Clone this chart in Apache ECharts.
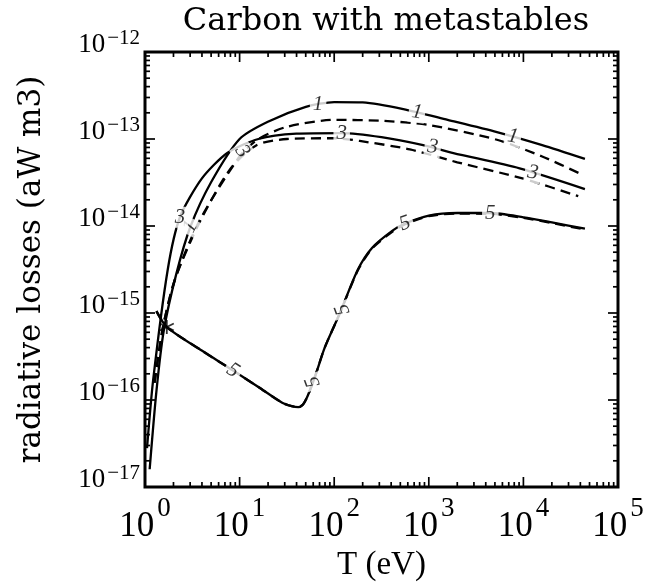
<!DOCTYPE html>
<html>
<head>
<meta charset="utf-8">
<script src="https://cdn.jsdelivr.net/npm/echarts@6/dist/echarts.min.js"></script>
<style>
  html, body { margin: 0; padding: 0; background: #fff; }
  #chart { width: 672px; height: 587px; }
</style>
</head>
<body>
<div id="chart"></div>
<script>
// Radiative loss curves for carbon (T in eV, losses in aW m3)

// curve "1", solid
const tSolid1 = [1.12, 1.32, 1.58, 2.14, 3.02, 5.01, 10.0, 19.9, 50.1, 100, 200, 537, 1585, 5250, 15800, 44700];
const lSolid1 = [1.6e-17, 1.26e-16, 6.3e-16, 2.8e-15, 9.8e-15, 3.2e-14, 1.0e-13, 1.58e-13, 2.34e-13, 2.66e-13, 2.63e-13, 2.21e-13, 1.66e-13, 1.2e-13, 8.5e-14, 5.9e-14];

// curve "1", dashed
const tDash1 = [1.26, 1.55, 2.09, 3.8, 10.0, 15.8, 31.6, 100, 316, 1000, 5250, 15800, 41700];
const lDash1 = [1.58e-16, 6.9e-16, 2.5e-15, 1.17e-14, 6.3e-14, 1.0e-13, 1.38e-13, 1.66e-13, 1.62e-13, 1.45e-13, 9.8e-14, 6.3e-14, 3.9e-14];

// curve "3", solid
const tSolid3 = [1.05, 1.22, 1.74, 2.34, 3.98, 7.41, 15.8, 39.8, 120, 316, 871, 1820, 9120, 44700];
const lSolid3 = [2.8e-17, 1.7e-16, 3.16e-15, 1.26e-14, 3.5e-14, 6.9e-14, 1.0e-13, 1.15e-13, 1.17e-13, 1.05e-13, 8.5e-14, 6.9e-14, 4.6e-14, 2.66e-14];

// curve "3", dashed
const tDash3 = [1.26, 1.55, 2.09, 3.8, 7.94, 15.1, 31.6, 100, 186, 631, 2000, 10000, 38000];
const lDash3 = [1.58e-16, 6.9e-16, 2.5e-15, 1.12e-14, 4.5e-14, 8.5e-14, 1.0e-13, 1.02e-13, 9.5e-14, 7.6e-14, 5.4e-14, 3.5e-14, 2.2e-14];

// curve "5", solid and dashed (nearly coincident)
const tCurve5 = [1.32, 1.70, 3.98, 8.51, 15.8, 28.2, 35.5, 41.7, 46.8, 52.5, 63.1, 79.4, 115, 178, 251, 417, 562, 1000, 2000, 4470, 10000, 20000, 44700];
const lSolid5 = [1.05e-15, 6.9e-16, 3.7e-16, 2.19e-16, 1.41e-16, 9.3e-17, 8.5e-17, 8.3e-17, 8.9e-17, 1.12e-16, 1.9e-16, 4.0e-16, 1.0e-15, 3.16e-15, 5.6e-15, 8.9e-15, 1.07e-14, 1.32e-14, 1.41e-14, 1.41e-14, 1.26e-14, 1.1e-14, 9.3e-15];
const lDash5  = [1.05e-15, 6.9e-16, 3.7e-16, 2.19e-16, 1.41e-16, 9.3e-17, 8.5e-17, 8.3e-17, 8.9e-17, 1.12e-16, 1.9e-16, 4.0e-16, 1.0e-15, 3.1e-15, 5.5e-15, 8.7e-15, 1.05e-14, 1.3e-14, 1.39e-14, 1.38e-14, 1.24e-14, 1.08e-14, 9.1e-15];

// in-line curve labels: text, T, loss, rotation
const curveLabels = [
  ['1', 67.6, 2.47e-13, 0],
  ['1', 750, 2.03e-13, -8],
  ['1', 7760, 1.07e-13, -10],
  ['1', 3.02, 9.8e-15, 62],
  ['3', 2.34, 1.26e-14, 0],
  ['3', 10.7, 7.2e-14, -55],
  ['3', 120, 1.17e-13, 0],
  ['3', 1100, 8.1e-14, -8],
  ['3', 12600, 4.1e-14, -10],
  ['5', 8.51, 2.19e-16, -33],
  ['5', 59.7, 1.62e-16, 110],
  ['5', 123, 1.1e-15, 110],
  ['5', 562, 1.07e-14, 20],
  ['5', 4470, 1.41e-14, 0]
];

// starred point on curve 5
const starPoint = [1.70, 6.9e-16];

// axis ranges and tick decades
const xDecades = [1, 10, 100, 1000, 10000];
const yDecades = [1e-17, 1e-16, 1e-15, 1e-14, 1e-13];
const minorSteps = [1, 2, 3, 4, 5, 6, 7, 8, 9];
const X_MIN = 1, X_MAX = 1e5, Y_MIN = 1e-17, Y_MAX = 1e-12;

const pairs = (ts, ls) => ts.map((t, i) => [t, ls[i]]);

const xTicks = [];
xDecades.forEach(d => minorSteps.forEach(m => xTicks.push([d * m, Y_MIN, m === 1 ? 1 : 0])));
xTicks.push([X_MAX, Y_MIN, 1]);
const yTicks = [];
yDecades.forEach(d => minorSteps.forEach(m => yTicks.push([X_MIN, d * m, m === 1 ? 1 : 0])));
yTicks.push([X_MIN, Y_MAX, 1]);

const TEXT_FONT = "'DejaVu Serif', serif";
const NUM_FONT = "'Liberation Serif', 'Times New Roman', serif";

function expOf(v) { return Math.round(Math.log10(v)); }

function lineSeries(data, dashed) {
  return {
    type: 'line', data: data, showSymbol: false, smooth: 0.25,
    lineStyle: { color: '#000', width: 2.3, type: dashed ? [10, 6] : 'solid' },
    z: 3, silent: true
  };
}

const tickSeries = (data, isX) => ({
  type: 'custom', data: data, silent: true, z: 5,
  renderItem: function (params, api) {
    const cs = params.coordSys;
    const major = api.value(2) === 1;
    const len = major ? 10 : 5;
    const st = { stroke: '#000', lineWidth: 1.7 };
    if (isX) {
      const x = api.coord([api.value(0), Y_MIN])[0];
      const yb = cs.y + cs.height, yt = cs.y;
      return { type: 'group', children: [
        { type: 'line', shape: { x1: x, y1: yb, x2: x, y2: yb - len }, style: st },
        { type: 'line', shape: { x1: x, y1: yt, x2: x, y2: yt + len }, style: st }
      ]};
    }
    const y = api.coord([X_MIN, api.value(1)])[1];
    const xl = cs.x, xr = cs.x + cs.width;
    return { type: 'group', children: [
      { type: 'line', shape: { x1: xl, y1: y, x2: xl + len, y2: y }, style: st },
      { type: 'line', shape: { x1: xr, y1: y, x2: xr - len, y2: y }, style: st }
    ]};
  }
});

const chart = echarts.init(document.getElementById('chart'), null, { renderer: 'canvas' });

chart.setOption({
  animation: false,
  backgroundColor: '#fff',
  title: {
    text: 'Carbon with metastables',
    left: 381, top: 1, textAlign: 'center',
    textStyle: { fontFamily: TEXT_FONT, fontWeight: 'normal', fontSize: 32, color: '#000' }
  },
  grid: {
    left: 145, right: 54, top: 52, bottom: 100,
    show: true, borderColor: '#000', borderWidth: 3, backgroundColor: 'transparent'
  },
  xAxis: {
    type: 'log', logBase: 10, min: X_MIN, max: X_MAX,
    axisLine: { show: false }, axisTick: { show: false }, splitLine: { show: false },
    minorTick: { show: false },
    axisLabel: {
      margin: 8,
      formatter: v => '{b|10}{e|' + expOf(v) + '}',
      rich: {
        b: { fontFamily: NUM_FONT, fontSize: 35, color: '#000', verticalAlign: 'bottom', padding: [14, 0, 0, 0] },
        e: { fontFamily: NUM_FONT, fontSize: 27, color: '#000', verticalAlign: 'top', padding: [0, 0, 16, 3] }
      }
    },
    name: 'T (eV)', nameLocation: 'middle', nameGap: 60,
    nameTextStyle: { fontFamily: NUM_FONT, fontSize: 33, color: '#000' }
  },
  yAxis: {
    type: 'log', logBase: 10, min: Y_MIN, max: Y_MAX,
    axisLine: { show: false }, axisTick: { show: false }, splitLine: { show: false },
    minorTick: { show: false },
    axisLabel: {
      margin: 5,
      formatter: v => '{b|10}{e|' + String(expOf(v)).replace('-', '−') + '}',
      rich: {
        b: { fontFamily: NUM_FONT, fontSize: 27, color: '#000' },
        e: { fontFamily: NUM_FONT, fontSize: 21, color: '#000', verticalAlign: 'top', padding: [0, 0, 14, 2] }
      },
      padding: [0, 0, 14, 0]
    },
    name: 'radiative losses (aW m3)', nameLocation: 'middle', nameGap: 98, nameRotate: 90,
    nameTextStyle: { fontFamily: TEXT_FONT, fontSize: 31, color: '#000' }
  },
  series: [
    lineSeries(pairs(tSolid1, lSolid1), false),
    lineSeries(pairs(tDash1, lDash1), true),
    lineSeries(pairs(tSolid3, lSolid3), false),
    lineSeries(pairs(tDash3, lDash3), true),
    lineSeries(pairs(tCurve5, lSolid5), false),
    lineSeries(pairs(tCurve5, lDash5), true),
    {
      type: 'scatter', silent: true, z: 6, symbolSize: 0,
      data: curveLabels.map(c => ({
        value: [c[1], c[2]],
        label: {
          show: true, position: 'inside', formatter: c[0], rotate: c[3],
          fontFamily: NUM_FONT, fontStyle: 'italic', fontSize: 21, color: '#000',
          backgroundColor: '#fff', padding: [0, 3]
        }
      }))
    },
    {
      type: 'scatter', silent: true, z: 7,
      symbol: 'path://M0,-10L0,10M-9,-5L9,5M-9,5L9,-5', symbolSize: 14,
      itemStyle: { color: 'none', borderColor: '#000', borderWidth: 1.8 },
      data: [starPoint]
    },
    tickSeries(xTicks, true),
    tickSeries(yTicks, false)
  ]
});
</script>
</body>
</html>
